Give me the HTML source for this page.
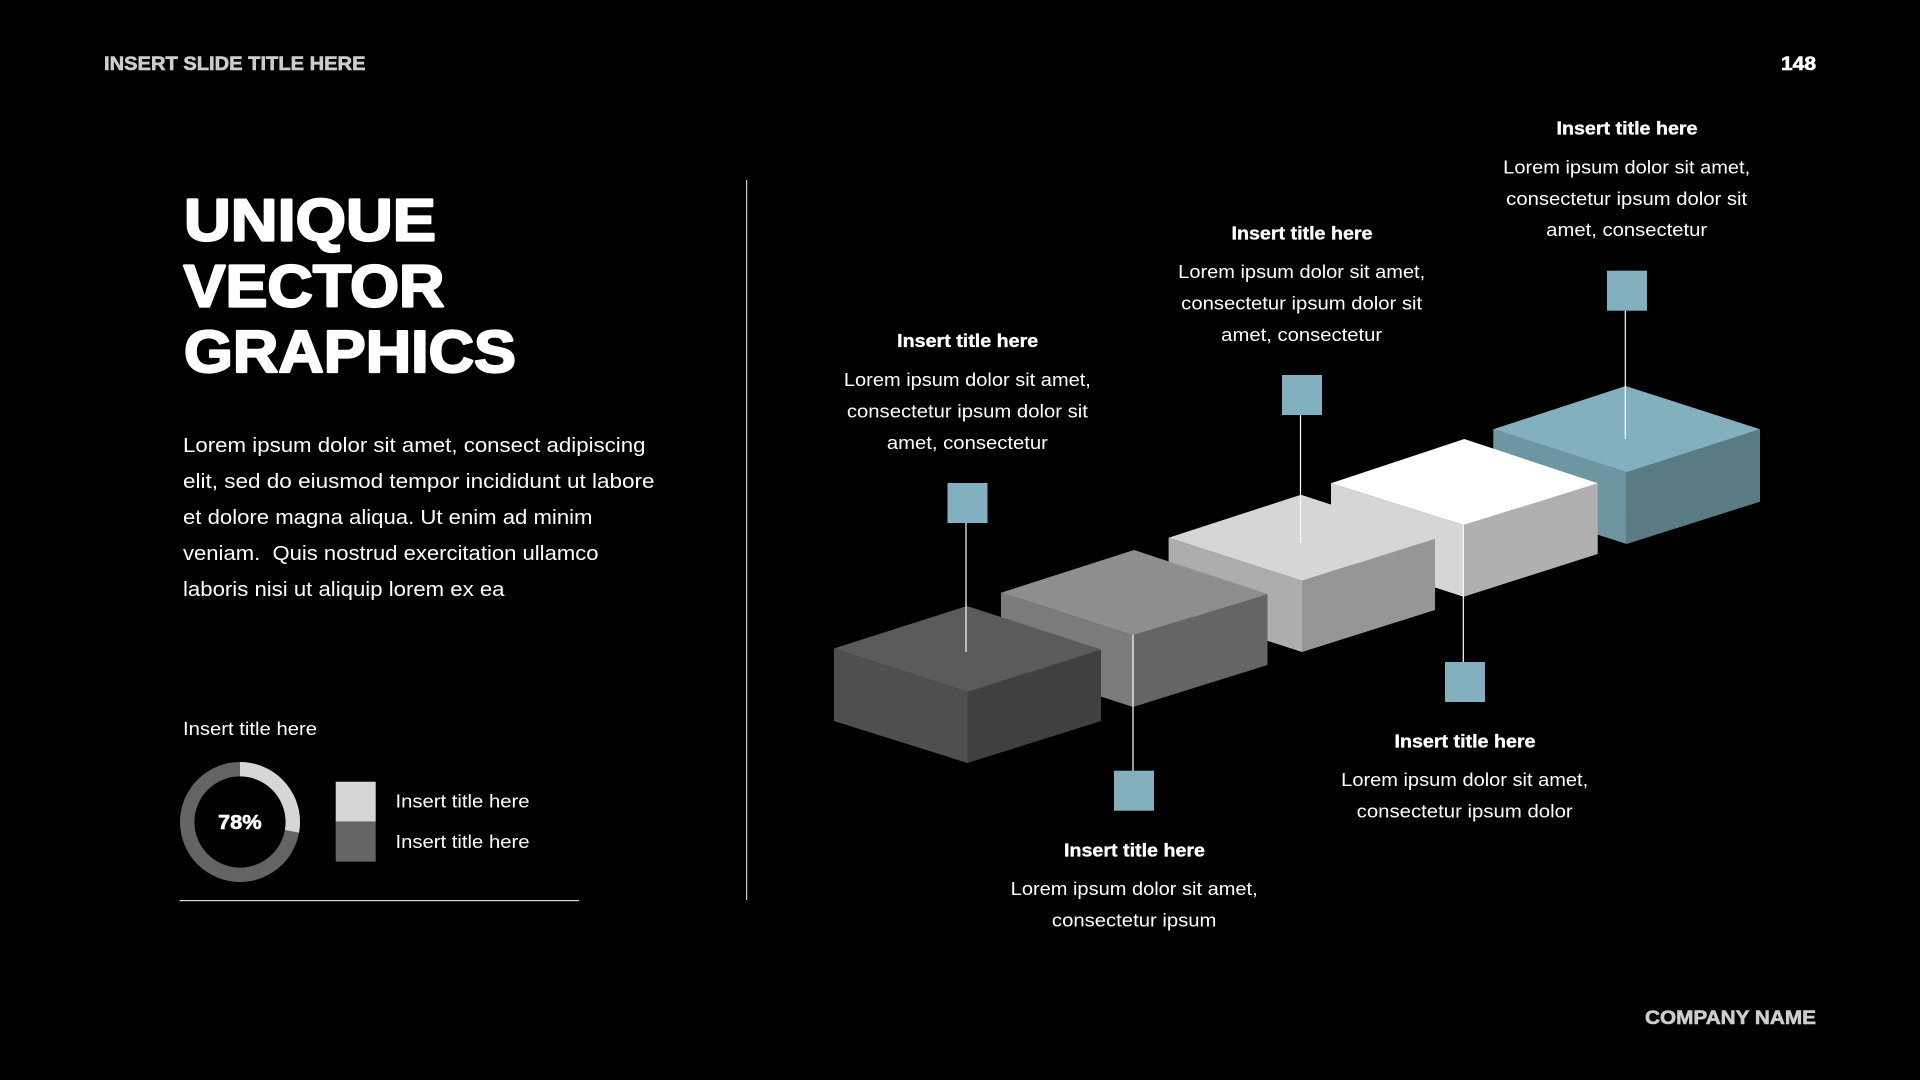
<!DOCTYPE html>
<html lang="en">
<head>
<meta charset="utf-8">
<title>Unique Vector Graphics</title>
<style>
html,body{margin:0;padding:0;background:#000;width:1920px;height:1080px;overflow:hidden}
svg{display:block}
text{font-family:"Liberation Sans",sans-serif;fill:#fff}
.b{font-weight:700}
.h{font-size:19px;font-weight:700;fill:#cdcdcd;stroke:#cdcdcd;stroke-width:.6}
.t{font-size:59px;font-weight:700;stroke:#fff;stroke-width:2.2;stroke-linejoin:round}
.p{font-size:20.5px}
.c{font-size:18.5px;text-anchor:middle}
.ct{font-size:18.5px;font-weight:700;text-anchor:middle;stroke:#fff;stroke-width:.35}
.l{font-size:18.5px}
</style>
</head>
<body>
<svg width="1920" height="1080" viewBox="0 0 1920 1080" xmlns="http://www.w3.org/2000/svg">
<rect width="1920" height="1080" fill="#000"/>

<!-- header / footer -->
<text class="h" x="104" y="70" textLength="261.5" lengthAdjust="spacingAndGlyphs">INSERT SLIDE TITLE HERE</text>
<text class="h" x="1781" y="70" textLength="35" lengthAdjust="spacingAndGlyphs" style="fill:#fff;stroke:#fff">148</text>
<text class="h" x="1645" y="1024" textLength="171" lengthAdjust="spacingAndGlyphs">COMPANY NAME</text>

<!-- title -->
<text class="t" x="184" y="240.3" textLength="252" lengthAdjust="spacingAndGlyphs">UNIQUE</text>
<text class="t" x="183.5" y="306.3" textLength="261" lengthAdjust="spacingAndGlyphs">VECTOR</text>
<text class="t" x="184" y="371.8" textLength="332" lengthAdjust="spacingAndGlyphs">GRAPHICS</text>

<!-- body -->
<text class="p" x="183" y="452" textLength="462.5" lengthAdjust="spacingAndGlyphs">Lorem ipsum dolor sit amet, consect adipiscing</text>
<text class="p" x="183" y="488" textLength="471.5" lengthAdjust="spacingAndGlyphs">elit, sed do eiusmod tempor incididunt ut labore</text>
<text class="p" x="183" y="524" textLength="409.5" lengthAdjust="spacingAndGlyphs">et dolore magna aliqua. Ut enim ad minim</text>
<text class="p" x="183" y="560" textLength="415.5" lengthAdjust="spacingAndGlyphs" xml:space="preserve">veniam.  Quis nostrud exercitation ullamco</text>
<text class="p" x="183" y="596" textLength="321.5" lengthAdjust="spacingAndGlyphs">laboris nisi ut aliquip lorem ex ea</text>

<!-- chart -->
<text class="l" x="183" y="735" textLength="134" lengthAdjust="spacingAndGlyphs">Insert title here</text>
<circle cx="240" cy="822" r="52.8" fill="none" stroke="#646464" stroke-width="14.4"/>
<circle cx="240" cy="822" r="52.8" fill="none" stroke="#d6d6d6" stroke-width="14.4" stroke-dasharray="92.2 331.8" transform="rotate(-90 240 822)"/>
<text class="b" x="218" y="829" font-size="20.5" textLength="43.7" lengthAdjust="spacingAndGlyphs" style="stroke:#fff;stroke-width:.6">78%</text>
<rect x="335.7" y="781.7" width="40" height="40" fill="#d6d6d6"/>
<rect x="335.7" y="821.7" width="40" height="40" fill="#646464"/>
<text class="l" x="395.5" y="807.7" textLength="134" lengthAdjust="spacingAndGlyphs">Insert title here</text>
<text class="l" x="395.5" y="848" textLength="134" lengthAdjust="spacingAndGlyphs">Insert title here</text>
<rect x="179.5" y="900" width="399.5" height="1.2" fill="#ddd"/>
<rect x="746" y="180" width="1.2" height="720" fill="#c8c8c8"/>

<!-- box 5 -->
<polygon points="1493.3,429.3 1626.7,472.3 1626.7,544 1493.3,501" fill="#6e96a2"/>
<polygon points="1760,429.3 1626.7,472.3 1626.7,544 1760,501.7" fill="#5a7a84"/>
<polygon points="1493.3,429.3 1625.7,386 1760,429.3 1626.7,472.3" fill="#83b0be"/>
<!-- box 4 -->
<polygon points="1331,483.3 1463.7,525 1463.7,596.7 1331,554" fill="#d6d6d6"/>
<polygon points="1597.7,483.3 1463.7,525 1463.7,596.7 1597.7,554" fill="#b0b0b0"/>
<polygon points="1331,483.3 1464.3,439 1597.7,483.3 1463.7,525" fill="#fff"/>
<!-- box 3 -->
<polygon points="1168.6,537.7 1302,580.7 1302,652 1168.6,609" fill="#adadad"/>
<polygon points="1435,538.7 1302,580.7 1302,652 1435,610" fill="#969696"/>
<polygon points="1168.6,537.7 1301,494.7 1435,538.7 1302,580.7" fill="#d6d6d6"/>
<!-- box 2 -->
<polygon points="1001,592.7 1133,635.3 1133,707 1001,664" fill="#7b7b7b"/>
<polygon points="1267.5,594 1133,635.3 1133,707 1267.5,665" fill="#656565"/>
<polygon points="1001,592.7 1134,550 1267.5,594 1133,635.3" fill="#8e8e8e"/>
<!-- box 1 -->
<polygon points="834,648.5 967.5,692 967.5,763 834,721" fill="#4f4f4f"/>
<polygon points="1101,649.5 967.5,692 967.5,763 1101,721" fill="#404040"/>
<polygon points="834,648.5 967,606 1101,649.5 967.5,692" fill="#5b5b5b"/>

<!-- connectors -->
<g stroke="#fff" stroke-width="1.2">
<line x1="966" y1="523" x2="966" y2="652"/>
<line x1="1133" y1="635" x2="1133" y2="771"/>
<line x1="1300.5" y1="415" x2="1300.5" y2="543"/>
<line x1="1463.3" y1="525" x2="1463.3" y2="662"/>
<line x1="1625.3" y1="310.7" x2="1625.3" y2="439"/>
</g>
<g fill="#83b0be">
<rect x="947.5" y="483" width="40" height="40"/>
<rect x="1114" y="770.7" width="40" height="40"/>
<rect x="1282" y="375" width="40" height="40"/>
<rect x="1445" y="662" width="40" height="40"/>
<rect x="1607" y="270.7" width="40" height="40"/>
</g>

<!-- callout box 5 -->
<text class="ct" x="1627" y="134.3" textLength="141" lengthAdjust="spacingAndGlyphs">Insert title here</text>
<text class="c" x="1626.7" y="173.3" textLength="247" lengthAdjust="spacingAndGlyphs">Lorem ipsum dolor sit amet,</text>
<text class="c" x="1626.7" y="204.8" textLength="241" lengthAdjust="spacingAndGlyphs">consectetur ipsum dolor sit</text>
<text class="c" x="1626.7" y="236" textLength="161" lengthAdjust="spacingAndGlyphs">amet, consectetur</text>

<!-- callout box 3 -->
<text class="ct" x="1302" y="239.3" textLength="141" lengthAdjust="spacingAndGlyphs">Insert title here</text>
<text class="c" x="1301.7" y="278" textLength="247" lengthAdjust="spacingAndGlyphs">Lorem ipsum dolor sit amet,</text>
<text class="c" x="1301.7" y="309.5" textLength="241" lengthAdjust="spacingAndGlyphs">consectetur ipsum dolor sit</text>
<text class="c" x="1301.7" y="341" textLength="161" lengthAdjust="spacingAndGlyphs">amet, consectetur</text>

<!-- callout box 1 -->
<text class="ct" x="967.7" y="347" textLength="141" lengthAdjust="spacingAndGlyphs">Insert title here</text>
<text class="c" x="967.4" y="386" textLength="247" lengthAdjust="spacingAndGlyphs">Lorem ipsum dolor sit amet,</text>
<text class="c" x="967.4" y="417.5" textLength="241" lengthAdjust="spacingAndGlyphs">consectetur ipsum dolor sit</text>
<text class="c" x="967.4" y="449" textLength="161" lengthAdjust="spacingAndGlyphs">amet, consectetur</text>

<!-- callout box 4 -->
<text class="ct" x="1465" y="747.3" textLength="141" lengthAdjust="spacingAndGlyphs">Insert title here</text>
<text class="c" x="1464.7" y="786" textLength="247" lengthAdjust="spacingAndGlyphs">Lorem ipsum dolor sit amet,</text>
<text class="c" x="1464.7" y="817.5" textLength="216" lengthAdjust="spacingAndGlyphs">consectetur ipsum dolor</text>

<!-- callout box 2 -->
<text class="ct" x="1134.5" y="856.3" textLength="141" lengthAdjust="spacingAndGlyphs">Insert title here</text>
<text class="c" x="1134.2" y="895" textLength="247" lengthAdjust="spacingAndGlyphs">Lorem ipsum dolor sit amet,</text>
<text class="c" x="1134.2" y="926.5" textLength="164.5" lengthAdjust="spacingAndGlyphs">consectetur ipsum</text>
</svg>
</body>
</html>
